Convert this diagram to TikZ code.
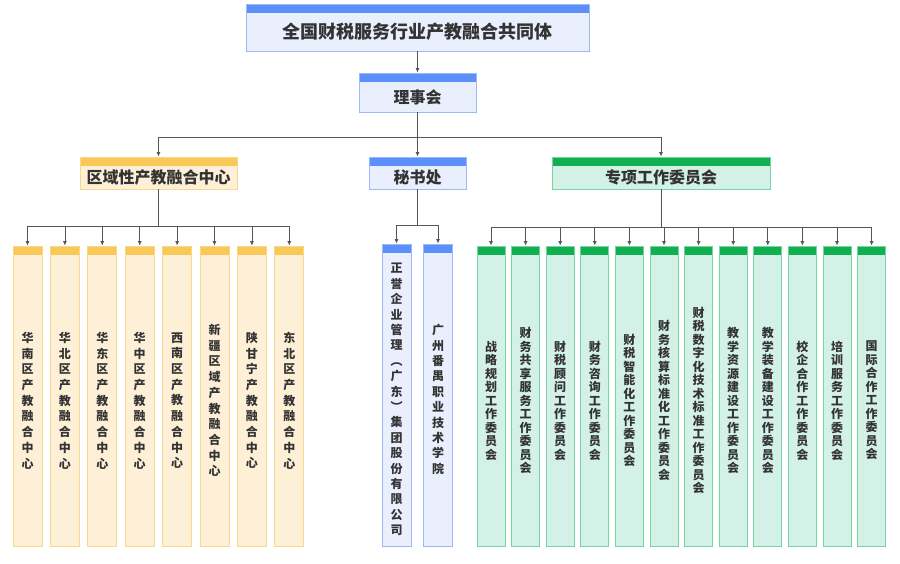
\documentclass[tikz,border=0pt]{standalone}
\usepackage{fontspec}
\setmainfont{Noto Sans CJK SC}
\usetikzlibrary{arrows.meta}
\definecolor{bluehd}{HTML}{5B8FF9}
\definecolor{bluebg}{HTML}{E9EFFD}
\definecolor{bluebd}{HTML}{9DB8F7}
\definecolor{orghd}{HTML}{FAC858}
\definecolor{orgbg}{HTML}{FDF0D7}
\definecolor{orgbd}{HTML}{F8D88C}
\definecolor{grnhd}{HTML}{12AF52}
\definecolor{grnbg}{HTML}{D3F1E6}
\definecolor{grnbd}{HTML}{76D5A0}
\definecolor{txtc}{HTML}{333333}
\definecolor{linec}{HTML}{555555}
\newcommand\vstack[2]{\edef\vlist{#2}\vbox{\baselineskip=#1\lineskip=0pt\lineskiplimit=-100pt\expandafter\vloop\vlist\relax}}
\def\vloop#1{\ifx#1\relax\else\hbox to 14pt{\hss#1\hss}\expandafter\vloop\fi}
\begin{document}
\begin{tikzpicture}[x=1pt,y=-1pt,
  box/.style={draw=#1bd, fill=#1bg, line width=0.8pt, inner sep=0pt,
    path picture={\fill[#1hd] (path picture bounding box.north west) rectangle ([yshift=-9pt]path picture bounding box.north east);}},
  lbl/.style={text=txtc, inner sep=0pt, yshift=-4.5pt},
  big/.style={lbl, font=\bfseries\fontsize{16pt}{16pt}\selectfont},
  col/.style={lbl, font=\bfseries\fontsize{12pt}{12pt}\selectfont},
  line/.style={draw=linec, line width=0.8pt},
  arr/.style={line, -{Latex[length=4.5pt,width=4pt]}}]
\fill[white] (0,0) rectangle (900,563);
\useasboundingbox (0,0) rectangle (900,563);
% top levels
\node[box=blue, minimum width=343pt, minimum height=47pt,
  label={[lbl,font=\bfseries\fontsize{18pt}{18pt}\selectfont]center:{全国财税服务行业产教融合共同体}}] (top) at (417.5,27.5) {};
\node[box=blue, minimum width=117pt, minimum height=39pt,
  label={[big]center:{理事会}}] (lsh) at (417.5,92.5) {};
\node[box=org, minimum width=157pt, minimum height=32pt,
  label={[big]center:{区域性产教融合中心}}] (reg) at (158.5,173) {};
\node[box=blue, minimum width=97pt, minimum height=32pt,
  label={[big]center:{秘书处}}] (sec) at (417.5,173) {};
\node[box=grn, minimum width=218pt, minimum height=32pt,
  label={[big]center:{专项工作委员会}}] (spc) at (661,173) {};
% connectors top
\draw[arr] (top.south) -- (lsh.north);
\coordinate (j0) at (417.5,137);
\draw[line] (lsh.south) -- (j0);
\draw[arr] (j0) -- (sec.north);
\draw[line] (reg.north |- j0) -- (spc.north |- j0);
\draw[arr] (reg.north |- j0) -- (reg.north);
\draw[arr] (spc.north |- j0) -- (spc.north);
% regional centres
\foreach \nm [count=\i] in {华南区产教融合中心,华北区产教融合中心,华东区产教融合中心,华中区产教融合中心,西南区产教融合中心,新疆区域产教融合中心,陕甘宁产教融合中心,东北区产教融合中心}{
  \node[box=org, minimum width=29pt, minimum height=300pt,
    label={[col]center:{\vstack{15.7pt}{\nm}}}] (r\i) at ({27.5+37.4*(\i-1)},396) {};
}
\coordinate (jr) at (158.5,226);
\draw[line] (reg.south) -- (jr);
\draw[line] (r1.north |- jr) -- (r8.north |- jr);
\foreach \i in {1,...,8}{\draw[arr] (r\i.north |- jr) -- (r\i.north);}
% secretariat
\node[box=blue, minimum width=29pt, minimum height=302pt,
  label={[col]center:{\vstack{15.4pt}{正誉企业管理︵广东︶集团股份有限公司}}}] (s1) at (396.5,395) {};
\node[box=blue, minimum width=29pt, minimum height=302pt,
  label={[col]center:{\vstack{15.4pt}{广州番禺职业技术学院}}}] (s2) at (438,395) {};
\coordinate (js) at (417.5,225);
\draw[line] (sec.south) -- (js);
\draw[line] (s1.north |- js) -- (s2.north |- js);
\draw[arr] (s1.north |- js) -- (s1.north);
\draw[arr] (s2.north |- js) -- (s2.north);
% committees
\foreach \nm [count=\i] in {战略规划工作委员会,财务共享服务工作委员会,财税顾问工作委员会,财务咨询工作委员会,财税智能化工作委员会,财务核算标准化工作委员会,财税数字化技术标准工作委员会,教学资源建设工作委员会,教学装备建设工作委员会,校企合作工作委员会,培训服务工作委员会,国际合作工作委员会}{
  \node[box=grn, minimum width=28pt, minimum height=300pt,
    label={[col]center:{\vstack{13.5pt}{\nm}}}] (g\i) at ({491+34.6*(\i-1)},396) {};
}
\coordinate (jg) at (661,227);
\draw[line] (spc.south) -- (jg);
\draw[line] (g1.north |- jg) -- (g12.north |- jg);
\foreach \i in {1,...,12}{\draw[arr] (g\i.north |- jg) -- (g\i.north);}
\end{tikzpicture}
\end{document}
